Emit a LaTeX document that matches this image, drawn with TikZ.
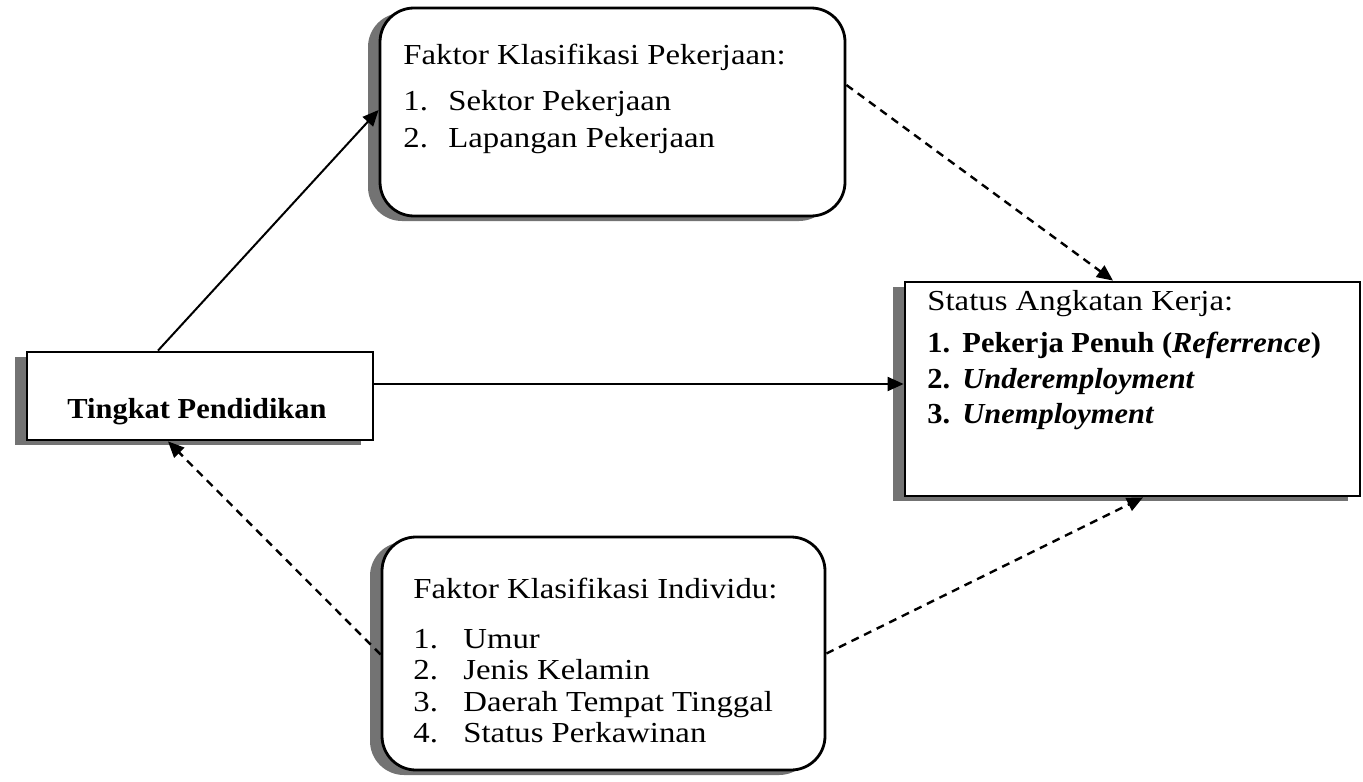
\documentclass[tikz,border=0pt]{standalone}
\usepackage{fontspec}
\setmainfont[FakeStretch=1.13,
  BoldFeatures={FakeStretch=1.05},
  BoldItalicFeatures={FakeStretch=1.05}]{Liberation Serif}
\usetikzlibrary{arrows.meta,shadows}
\begin{document}
\begin{tikzpicture}[x=0.5pt,y=-0.5pt,
  box/.style={draw=black, line width=1.4pt, fill=white, inner sep=0pt,
    drop shadow={shadow xshift=-6pt, shadow yshift=-2.5pt, fill=black!55, opacity=1}},
  rbox/.style={box, rounded corners=17pt},
  lbl/.style={anchor=base west, inner sep=0pt, font=\fontsize{14.5}{16}\selectfont},
  blbl/.style={lbl, font=\fontsize{14.5}{16}\selectfont\bfseries},
  link/.style={-{Triangle[length=8pt,width=7pt]}, line width=1pt},
  dlink/.style={link, line width=1.2pt, dash pattern=on 4pt off 3pt}]
\useasboundingbox (0,0) rectangle (1363,781);

% boxes
\node[rbox, minimum width=232.5pt, minimum height=104pt] (kerja) at (612.5,112) {};
\node[box, minimum width=173pt, minimum height=44pt] (ting) at (200,396) {};
\node[box, minimum width=227.5pt, minimum height=107pt] (status) at (1132.5,389) {};
\node[rbox, minimum width=221.5pt, minimum height=116.5pt] (indiv) at (603.5,653.5) {};

% texts of the job classification box
\node[lbl] (kerjaT) at (403,65) {Faktor Klasifikasi Pekerjaan:};
\node[lbl] (kerjaA) at (403,111) {\makebox[22.5pt][l]{1.}Sektor Pekerjaan};
\node[lbl] (kerjaB) at (403,148) {\makebox[22.5pt][l]{2.}Lapangan Pekerjaan};

% education level
\node[blbl, anchor=base] (tingT) at (197,418) {Tingkat Pendidikan};

% labour force status
\node[lbl] (statusT) at (927,310) {Status Angkatan Kerja:};
\node[blbl] (statusA) at (927,352) {\makebox[17.5pt][l]{1.}Pekerja Penuh (\textit{Referrence})};
\node[blbl] (statusB) at (927,388) {\makebox[17.5pt][l]{2.}\textit{Underemployment}};
\node[blbl] (statusC) at (927,423) {\makebox[17.5pt][l]{3.}\textit{Unemployment}};

% individual classification
\node[lbl] (indivT) at (413,598) {Faktor Klasifikasi Individu:};
\node[lbl] (indivA) at (413,648) {\makebox[25pt][l]{1.}Umur};
\node[lbl] (indivB) at (413,679) {\makebox[25pt][l]{2.}Jenis Kelamin};
\node[lbl] (indivC) at (413,711) {\makebox[25pt][l]{3.}Daerah Tempat Tinggal};
\node[lbl] (indivD) at (413,742) {\makebox[25pt][l]{4.}Status Perkawinan};

% connectors
\draw[link] ([xshift=-21pt]ting.north) -- ([yshift=1pt]kerja.west);
\draw[link] ([yshift=6pt]ting.east) -- ([yshift=6pt]ting.east -| status.west);
\draw[dlink] ([yshift=13.5pt]kerja.east) -- ([xshift=-9.75pt]status.north);
\draw[dlink] ([yshift=-0.5pt]indiv.west) -- ([xshift=-16pt]ting.south);
\draw[dlink] (indiv.east) -- ([xshift=5.25pt]status.south);
\end{tikzpicture}
\end{document}
